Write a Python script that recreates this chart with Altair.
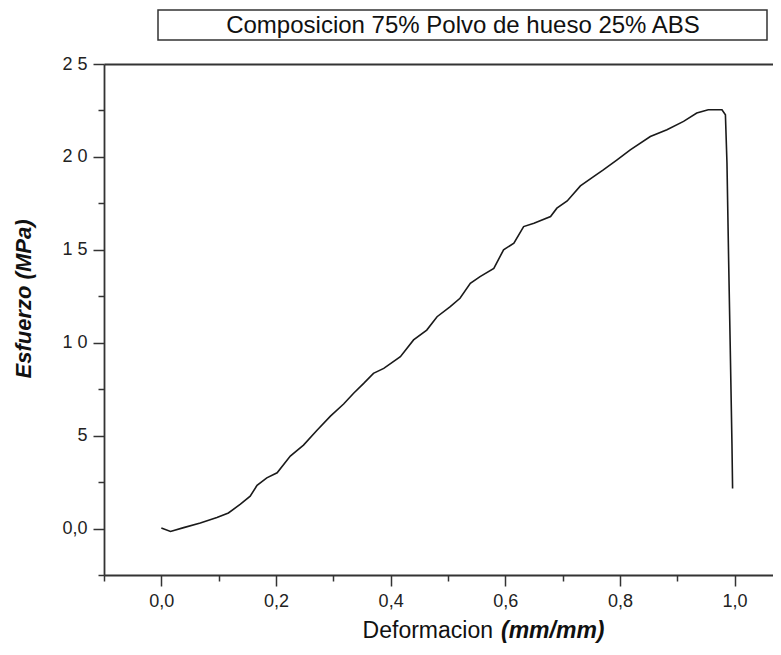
import altair as alt
import pandas as pd

# ---- data ----
strain = [0.000, 0.016, 0.039, 0.068, 0.097, 0.117, 0.138, 0.155, 0.167, 0.184,
          0.202, 0.225, 0.248, 0.272, 0.295, 0.318, 0.335, 0.353, 0.370, 0.388,
          0.417, 0.440, 0.463, 0.481, 0.504, 0.521, 0.539, 0.556, 0.580, 0.597,
          0.615, 0.632, 0.650, 0.679, 0.690, 0.708, 0.731, 0.754, 0.771, 0.795,
          0.818, 0.853, 0.882, 0.911, 0.934, 0.954, 0.978, 0.984, 0.9867, 0.9895,
          0.9925, 0.9954, 0.9965]
stress = [0.03, -0.16, 0.05, 0.30, 0.59, 0.84, 1.31, 1.74, 2.33, 2.73,
          3.00, 3.90, 4.49, 5.30, 6.05, 6.70, 7.27, 7.81, 8.35, 8.62,
          9.25, 10.15, 10.68, 11.40, 11.94, 12.39, 13.20, 13.56, 14.00, 15.00,
          15.36, 16.25, 16.43, 16.79, 17.24, 17.63, 18.44, 18.94, 19.30, 19.84,
          20.38, 21.10, 21.46, 21.91, 22.36, 22.54, 22.54, 22.27, 19.67, 14.63,
          9.60, 4.58, 2.16]

x_tick_values = [0.0, 0.2, 0.4, 0.6, 0.8, 1.0]
x_tick_labels = ["0,0", "0,2", "0,4", "0,6", "0,8", "1,0"]
x_minor_values = [-0.1, 0.1, 0.3, 0.5, 0.7, 0.9]
y_tick_values = [0, 5, 10, 15, 20, 25]
y_tick_labels = ["0,0", "5", "1 0", "1 5", "2 0", "2 5"]
y_minor_values = [-2.5, 2.5, 7.5, 12.5, 17.5, 22.5]

title_text = "Composicion 75% Polvo de hueso 25% ABS"
y_title = "Esfuerzo (MPa)"
x_title_a = "Deformacion"
x_title_b = "(mm/mm)"

df = pd.DataFrame({"i": list(range(len(strain))), "x": strain, "y": stress})

FONT = "Liberation Sans"
AX = "#333333"


def label_expr(vals, labs):
    v = "[" + ",".join(repr(float(a)) for a in vals) + "]"
    l = "[" + ",".join("'" + s + "'" for s in labs) + "]"
    return f"{l}[indexof({v}, datum.value)]"


xscale = alt.Scale(domain=[-0.1, 1.067], nice=False, zero=False)
yscale = alt.Scale(domain=[-2.5, 25], nice=False, zero=False)

line = alt.Chart(df).mark_line(color="#1a1a1a", strokeWidth=1.6).encode(
    x=alt.X("x:Q", scale=xscale,
            axis=alt.Axis(values=x_tick_values, labelExpr=label_expr(x_tick_values, x_tick_labels),
                          title=None, grid=False, orient="bottom", tickSize=11, labelPadding=6,
                          labelFontSize=18, labelFont=FONT, labelColor="#222",
                          domainColor=AX, tickColor=AX, domainWidth=1.8, tickWidth=1.5)),
    y=alt.Y("y:Q", scale=yscale,
            axis=alt.Axis(values=y_tick_values, labelExpr=label_expr(y_tick_values, y_tick_labels),
                          title=None, grid=False, orient="left", tickSize=11, labelPadding=6,
                          labelFontSize=18, labelFont=FONT, labelColor="#222",
                          domainColor=AX, tickColor=AX, domainWidth=1.8, tickWidth=1.5)),
    order="i:Q",
)

minor = alt.Chart(df).mark_line(opacity=0).encode(
    x=alt.X("x:Q", scale=xscale,
            axis=alt.Axis(values=x_minor_values, labels=False, title=None, grid=False,
                          orient="bottom", tickSize=6, domain=False, tickColor=AX, tickWidth=1.5)),
    y=alt.Y("y:Q", scale=yscale,
            axis=alt.Axis(values=y_minor_values, labels=False, title=None, grid=False,
                          orient="left", tickSize=6, domain=False, tickColor=AX, tickWidth=1.5)),
    order="i:Q",
)

top = alt.Chart(df).mark_line(opacity=0).encode(
    x=alt.X("x:Q", scale=xscale,
            axis=alt.Axis(orient="top", labels=False, ticks=False, title=None, grid=False,
                          domainColor=AX, domainWidth=1.8)),
    y=alt.Y("y:Q", scale=yscale, axis=None),
    order="i:Q",
)

one = pd.DataFrame({"a": [0]})

box = alt.Chart(one).mark_rect(fill="white", stroke="#333333", strokeWidth=1.5).encode(
    x=alt.value(54), x2=alt.value(663), y=alt.value(-54), y2=alt.value(-24))

title = alt.Chart(pd.DataFrame({"t": [title_text]})).mark_text(
    font=FONT, fontSize=24, color="#111", align="center", baseline="alphabetic").encode(
    text="t:N", x=alt.value(359), y=alt.value(-31))

ytitle = alt.Chart(pd.DataFrame({"t": [y_title]})).mark_text(
    font=FONT, fontSize=22, fontWeight="bold", fontStyle="italic", color="#111",
    align="center", baseline="alphabetic", angle=270).encode(
    text="t:N", x=alt.value(-73), y=alt.value(235))

xtitle_a = alt.Chart(pd.DataFrame({"t": [x_title_a]})).mark_text(
    font=FONT, fontSize=23, color="#111", align="right", baseline="alphabetic").encode(
    text="t:N", x=alt.value(389), y=alt.value(574))

xtitle_b = alt.Chart(pd.DataFrame({"t": [x_title_b]})).mark_text(
    font=FONT, fontSize=23, fontWeight="bold", fontStyle="italic", color="#111",
    align="left", baseline="alphabetic").encode(
    text="t:N", x=alt.value(397), y=alt.value(574))

chart = alt.layer(line, minor, top, box, title, ytitle, xtitle_a, xtitle_b).resolve_axis(
    x="independent", y="independent"
).properties(
    width=669, height=511,
    autosize=alt.AutoSizeParams(type="none"),
    padding={"left": 96, "top": 56, "right": 0, "bottom": 72},
).configure_view(stroke=None).configure(background="white")

chart.save("out.html", embed_options={"renderer": "svg", "actions": False})
